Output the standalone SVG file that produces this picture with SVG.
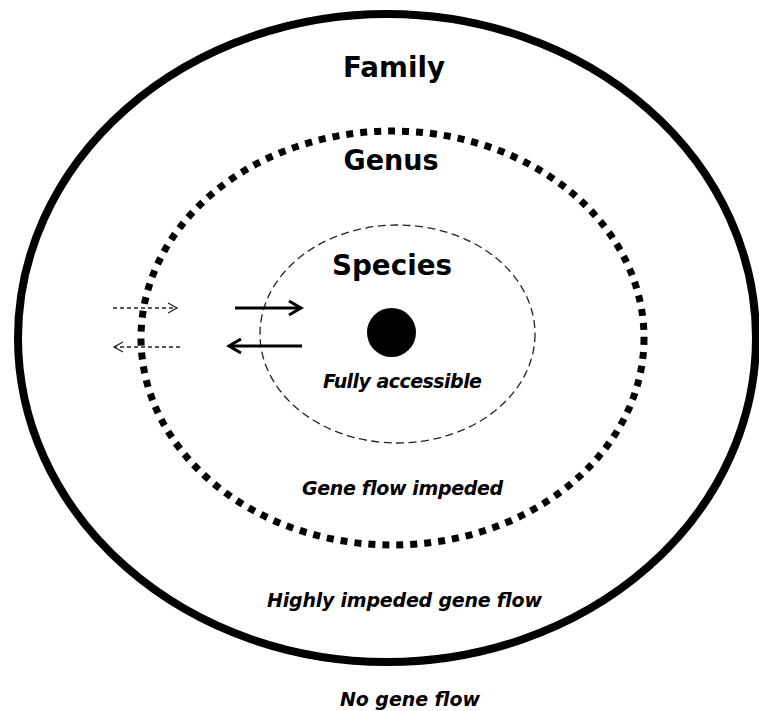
<svg xmlns="http://www.w3.org/2000/svg" width="759" height="711" viewBox="0 0 759 711">
  <style>
    .title { font-family: "DejaVu Sans", Verdana, sans-serif; font-weight: bold; font-size: 27.5px; fill: #000; text-anchor: middle; }
    .note { font-family: "DejaVu Sans", Verdana, sans-serif; font-weight: bold; font-style: italic; font-size: 19px; fill: #000; text-anchor: middle; }
    .solid { stroke: #000; stroke-width: 3; fill: none; }
    .dashed { stroke: #222; stroke-width: 1.3; stroke-dasharray: 4 3; fill: none; }
  </style>
  <defs>
    <marker id="headSolid" markerUnits="userSpaceOnUse" markerWidth="20" markerHeight="20" viewBox="-2 -2 20 20" refX="13" refY="7" orient="auto">
      <path d="M1,0 L13,7 L1,14" fill="none" stroke="#000" stroke-width="3"/>
    </marker>
    <marker id="headDashed" markerUnits="userSpaceOnUse" markerWidth="16" markerHeight="16" viewBox="-2 -2 16 16" refX="9" refY="5" orient="auto">
      <path d="M0,0 L9,5 L0,10" fill="none" stroke="#222" stroke-width="1.3"/>
    </marker>
  </defs>
  <rect width="759" height="711" fill="#fff"/>

  <g id="family">
    <ellipse cx="387" cy="338" rx="369" ry="324" fill="none" stroke="#000" stroke-width="8"/>
    <text class="title" x="394" y="77" textLength="102" lengthAdjust="spacingAndGlyphs">Family</text>
  </g>

  <g id="genus">
    <ellipse cx="392.5" cy="338" rx="251.5" ry="207" fill="none" stroke="#000" stroke-width="7" stroke-dasharray="7 7"/>
    <text class="title" x="391" y="170" textLength="95" lengthAdjust="spacingAndGlyphs">Genus</text>
  </g>

  <g id="species">
    <ellipse cx="397.5" cy="334" rx="137.5" ry="109" fill="none" stroke="#222" stroke-width="1.3" stroke-dasharray="8 4.5"/>
    <text class="title" x="392" y="275" textLength="120" lengthAdjust="spacingAndGlyphs">Species</text>
  </g>

  <g id="core">
    <circle cx="391.5" cy="332.5" r="24.5" fill="#000"/>
  </g>

  <g id="labels">
    <text class="note" x="402.5" y="388" textLength="159" lengthAdjust="spacing">Fully accessible</text>
    <text class="note" x="402.5" y="495" textLength="201" lengthAdjust="spacing">Gene flow impeded</text>
    <text class="note" x="404.5" y="607" textLength="275" lengthAdjust="spacing">Highly impeded gene flow</text>
    <text class="note" x="410" y="706" textLength="140" lengthAdjust="spacing">No gene flow</text>
  </g>

  <g id="connectors">
    <line class="solid" x1="235" y1="308" x2="301" y2="308" marker-end="url(#headSolid)"/>
    <line class="solid" x1="302" y1="346" x2="229" y2="346" marker-end="url(#headSolid)"/>
    <line class="dashed" x1="113" y1="308" x2="177" y2="308" marker-end="url(#headDashed)"/>
    <line class="dashed" x1="180" y1="347" x2="114" y2="347" marker-end="url(#headDashed)"/>
  </g>
</svg>
